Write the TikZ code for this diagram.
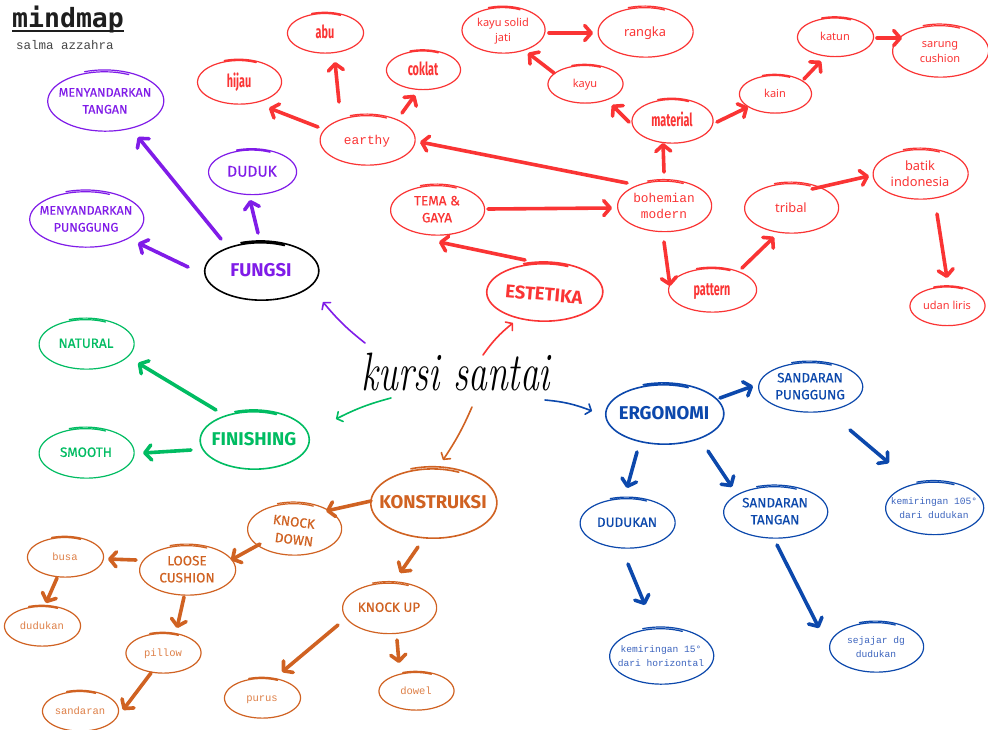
\documentclass[tikz,border=0pt]{standalone}
\usepackage{fontspec}
\usepackage{graphicx}
\usetikzlibrary{arrows.meta,shapes.geometric}
\newfontfamily\fira{Fira Sans}
\newfontfamily\firam{Fira Sans}[FakeBold=0.35]
\newfontfamily\mono{Liberation Mono}
\newfontfamily\rnd{Noto Sans}
\newfontfamily\dmono{DejaVu Sans Mono}
\definecolor{cpur}{RGB}{128,28,232}
\definecolor{cred}{RGB}{250,52,52}
\definecolor{cgrn}{RGB}{0,188,98}
\definecolor{corg}{RGB}{208,98,34}
\definecolor{corgl}{RGB}{222,128,72}
\definecolor{cblu}{RGB}{12,72,172}
\definecolor{cblt}{RGB}{60,100,190}
\definecolor{ctitle}{RGB}{30,30,30}
\definecolor{csub}{RGB}{70,70,70}
\newcommand\bt[1]{\makebox[0pt]{\smash{\raisebox{-0.3em}{\begin{tabular}{@{}c@{}}#1\end{tabular}}}}}
\newcommand\bub[8][]{%
  \node[bubble, minimum width=#5pt, minimum height=#6pt, text=#7, #1] (#2) at (#3,#4) {\bt{#8}};
  \draw[sketch, #7] plot[variable=\t, domain=65:470, samples=100, smooth]
    ({#3+(#5/2)*(0.97+0.06*(\t-65)/405)*cos(\t)}, {#4-(#6/2)*(0.97+0.07*(\t-65)/405)*sin(\t)});
}
\newcommand\cn[8][]{%
  \draw[arr, #2, #1] ([shift={(#4,#5)}]#3.center) -- ([shift={(#7,#8)}]#6.center);
}
\tikzset{
  bubble/.style={ellipse, inner sep=0pt, outer sep=0pt},
  sketch/.style={line width=1.2pt, line cap=round, line join=round},
  arr/.style={line width=3.6pt, line cap=round, -{Straight Barb[length=6.5pt,width=15pt,round]}},
  thinarr/.style={line width=1.6pt, line cap=round, -{Straight Barb[length=4.5pt,width=11pt,round]}},
  tmain/.style={font=\fira\bfseries\fontsize{18.5}{22}\selectfont},
  thand/.style={font=\firam\fontsize{13.5}{17}\selectfont},
  thandL/.style={font=\firam\fontsize{15.5}{18}\selectfont},
  thandS/.style={font=\firam\fontsize{12.5}{17}\selectfont},
  tmono/.style={font=\mono\fontsize{12.8}{16}\selectfont},
  tmonoS/.style={font=\mono\fontsize{10.5}{13}\selectfont},
  tmonoT/.style={font=\mono\fontsize{9.6}{14}\selectfont},
  tround/.style={font=\rnd\fontsize{11}{15}\selectfont},
  troundL/.style={font=\rnd\fontsize{12.8}{16}\selectfont},
  tcond/.style={font=\fira\bfseries\fontsize{18}{20}\selectfont},
}
\begin{document}
\begin{tikzpicture}[x=1pt,y=-1pt]
\useasboundingbox (0,0) rectangle (988,729);
\fill[white] (0,0) rectangle (988,729);

% title
\node[anchor=base west, inner sep=0pt, text=ctitle, font=\dmono\bfseries\fontsize{26.5}{28}\selectfont] (title) at (12,27) {mindmap};
\draw[line width=2.6pt, ctitle] ([yshift=-4pt]title.base west) -- ([yshift=-4pt]title.base east);
\node[anchor=base west, inner sep=0pt, text=csub, font=\mono\fontsize{12.5}{14}\selectfont] (author) at (16,49) {salma azzahra};

% centre
\node[inner sep=0pt, font=\fontsize{47}{50}\selectfont\itshape] (c) at (456,372) {\scalebox{0.8}[1.15]{kursi santai}};

% FUNGSI
\bub[tmain, text=cpur]{f}{261}{271}{114}{58}{black, line width=1.6pt}{FUNGSI}
\bub[thandL]{fd}{252}{172}{88}{45}{cpur}{DUDUK}
\bub[thandS]{ft}{105}{101}{116}{60}{cpur}{MENYANDARKAN\\TANGAN}
\bub[thandS]{fp}{86}{219}{114}{56}{cpur}{MENYANDARKAN\\PUNGGUNG}

% ESTETIKA
\bub[tmain]{e}{544}{292}{116}{58}{cred, line width=1.6pt}{\rotatebox{-5}{ESTETIKA}}
\bub[thand]{et}{437}{210}{94}{50}{cred}{TEMA \&\\GAYA}
\bub[tmono]{eb}{664}{206}{94}{51}{cred}{bohemian\\modern}
\bub[tmono]{ee}{367}{140}{95}{50}{cred}{earthy}
\bub[tcond]{eh}{239}{82}{84}{44}{cred}{\scalebox{0.6}[1]{hijau}}
\bub[tcond]{ea}{325}{33}{76}{40}{cred}{\scalebox{0.6}[1]{abu}}
\bub[tcond]{ec}{423}{70}{74}{39}{cred}{\scalebox{0.6}[1]{coklat}}
\bub[tround]{ej}{503}{30}{83}{46}{cred}{kayu solid\\jati}
\bub[troundL]{er}{645}{32}{95}{50}{cred}{rangka}
\bub[tround]{ek}{585}{84}{75}{38}{cred}{kayu}
\bub[tcond]{em}{672}{121}{81}{44}{cred}{\scalebox{0.6}[1]{material}}
\bub[tround]{en}{775}{94}{72}{38}{cred}{kain}
\bub[tround]{eka}{835}{37}{76}{39}{cred}{katun}
\bub[tround]{es}{940}{51}{96}{52}{cred}{sarung\\cushion}
\bub[tcond]{ep}{712}{290}{88}{44}{cred}{\scalebox{0.6}[1]{pattern}}
\bub[troundL]{etr}{791}{208}{94}{50}{cred}{tribal}
\bub[troundL]{ebt}{920}{174}{95}{50}{cred}{batik\\indonesia}
\bub[tround]{eu}{947}{306}{75}{39}{cred}{udan liris}

% FINISHING
\bub[tmain]{g}{254}{440}{109}{58}{cgrn, line width=1.6pt}{FINISHING}
\bub[thand]{gn}{86}{344}{95}{50}{cgrn}{NATURAL}
\bub[thand]{gs}{86}{453}{95}{50}{cgrn}{SMOOTH}

% KONSTRUKSI
\bub[tmain]{k}{433}{503}{126}{70}{corg, line width=1.6pt}{KONSTRUKSI}
\bub[thand]{kd}{294}{529}{94}{52}{corg}{\rotatebox{-7}{KNOCK}\\[1pt]\rotatebox{-7}{DOWN}}
\bub[thand]{kl}{187}{570}{96}{50}{corg}{LOOSE\\CUSHION}
\bub[tmonoS, text=corgl]{kb}{65}{557}{76}{40}{corg}{busa}
\bub[tmonoS, text=corgl]{kdu}{42}{626}{76}{40}{corg}{dudukan}
\bub[tmonoS, text=corgl]{kp}{163}{653}{75}{40}{corg}{pillow}
\bub[tmonoS, text=corgl]{ks}{80}{711}{76}{40}{corg}{sandaran}
\bub[thand]{ku}{389}{608}{94}{51}{corg}{KNOCK UP}
\bub[tmonoS, text=corgl]{kpu}{262}{698}{76}{40}{corg}{purus}
\bub[tmonoS, text=corgl]{kdo}{416}{691}{75}{38}{corg}{dowel}

% ERGONOMI
\bub[tmain]{r}{664}{414}{118}{60}{cblu, line width=1.6pt}{ERGONOMI}
\bub[thand]{rp}{810}{387}{104}{50}{cblu}{SANDARAN\\PUNGGUNG}
\bub[thand]{rd}{627}{523}{95}{50}{cblu}{DUDUKAN}
\bub[thand]{rt}{775}{512}{104}{52}{cblu}{SANDARAN\\TANGAN}
\bub[tmonoT, text=cblt]{rk}{934}{508}{98}{53}{cblu}{kemiringan 105°\\dari dudukan}
\bub[tmonoT, text=cblt]{rk2}{661}{656}{104}{56}{cblu}{kemiringan 15°\\dari horizontal}
\bub[tmonoT, text=cblt]{rs}{876}{647}{94}{50}{cblu}{sejajar dg\\dudukan}

% thin connectors from the centre
\draw[thinarr, cpur] ([shift={(-91,-29)}]c.center) to[bend left=6] ([shift={(62,31)}]f.center);
\draw[thinarr, cred] ([shift={(27,-17)}]c.center) to[bend left=8] ([shift={(-31,31)}]e.center);
\draw[thinarr, cgrn] ([shift={(-65,26)}]c.center) to[bend right=6] ([shift={(82,-21)}]g.center);
\draw[thinarr, corg] ([shift={(16,35)}]c.center) to[bend left=5] ([shift={(10,-43)}]k.center);
\draw[thinarr, cblu] ([shift={(89,28)}]c.center) to[bend left=8] ([shift={(-72,-3)}]r.center);

% purple
\cn{cpur}{f}{-40}{-32}{ft}{33}{36}
\cn{cpur}{f}{-3}{-38}{fd}{-2}{28}
\cn{cpur}{f}{-73}{-4}{fp}{52}{24}
% red
\cn{cred}{e}{-19}{-32}{et}{2}{32}
\cn{cred}{et}{51}{-1}{eb}{-52}{2}
\cn{cred}{eb}{-37}{-23}{ee}{53}{2}
\cn{cred}{ee}{-49}{-13}{eh}{30}{26}
\cn{cred}{ee}{-28}{-38}{ea}{10}{29}
\cn{cred}{ee}{35}{-27}{ec}{-8}{25}
\cn{cred}{eb}{0}{-34}{em}{-9}{22}
\cn{cred}{em}{-43}{1}{ek}{27}{21}
\cn{cred}{ek}{-31}{-11}{ej}{25}{23}
\cn{cred}{ej}{46}{3}{er}{-52}{1}
\cn{cred}{em}{45}{1}{en}{-27}{13}
\cn{cred}{en}{29}{-15}{eka}{-14}{24}
\cn{cred}{eka}{42}{1}{es}{-38}{-13}
\cn{cred}{eb}{0}{36}{ep}{-42}{-4}
\cn{cred}{ep}{30}{-22}{etr}{-17}{29}
\cn{cred}{etr}{21}{-19}{ebt}{-51}{2}
\cn{cred}{ebt}{17}{40}{eu}{0}{-28}
% green
\cn{cgrn}{g}{-38}{-30}{gn}{52}{19}
\cn{cgrn}{g}{-63}{10}{gs}{57}{0}
% orange
\cn{corg}{k}{-62}{-2}{kd}{32}{-18}
\cn{corg}{kd}{-34}{15}{kl}{44}{-10}
\cn{corg}{kl}{-51}{-10}{kb}{43}{2}
\cn{corg}{kb}{-8}{21}{kdu}{4}{-23}
\cn{corg}{kl}{-3}{27}{kp}{14}{-25}
\cn{corg}{kp}{-12}{20}{ks}{43}{-1}
\cn{corg}{k}{-15}{44}{ku}{11}{-35}
\cn{corg}{ku}{-51}{17}{kpu}{20}{-26}
\cn{corg}{ku}{8}{32}{kdo}{-17}{-28}
% blue
\cn{cblu}{r}{56}{-16}{rp}{-57}{-1}
\cn{cblu}{rp}{40}{43}{rk}{-45}{-45}
\cn{cblu}{r}{-27}{38}{rd}{0}{-35}
\cn{cblu}{r}{44}{37}{rt}{-43}{-25}
\cn{cblu}{rd}{1}{41}{rk2}{-16}{-51}
\cn{cblu}{rt}{2}{33}{rs}{-57}{-19}
\end{tikzpicture}
\end{document}
